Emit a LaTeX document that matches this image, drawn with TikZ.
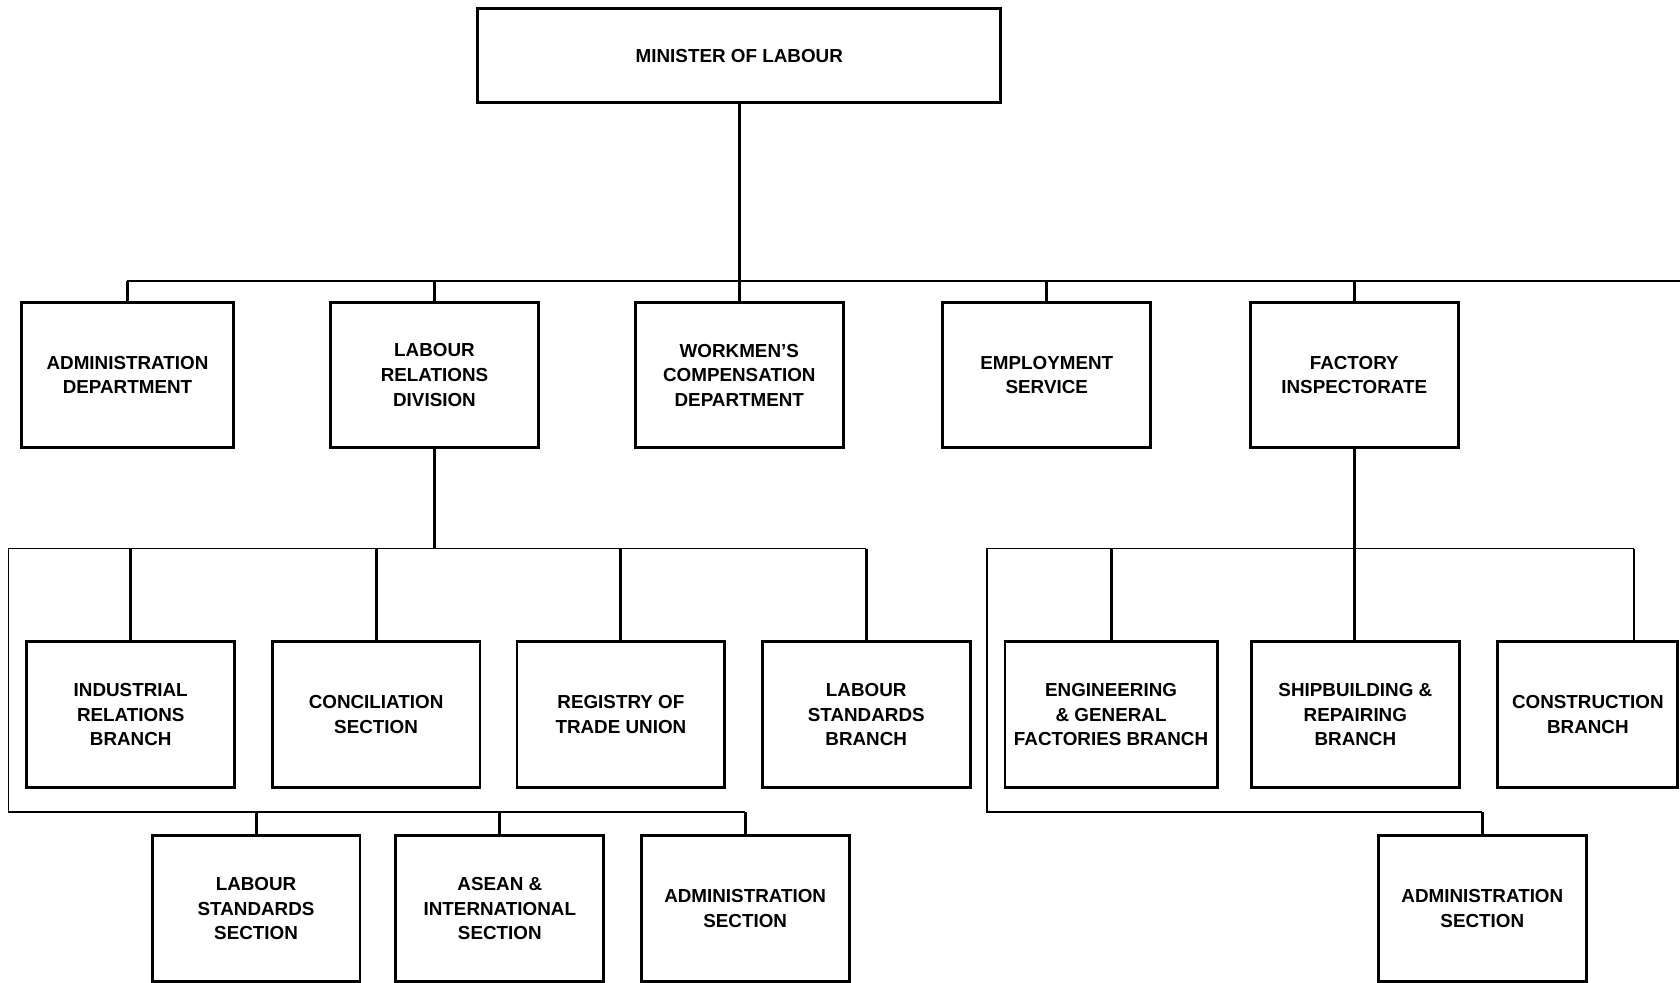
\documentclass[tikz,border=0pt]{standalone}
\usepackage{fontspec}
\setmainfont{Liberation Sans}
\usepackage{tikz}
\usetikzlibrary{positioning}

\begin{document}
\begin{tikzpicture}[
    x=0.025cm, y=-0.025cm,
    box/.style={rectangle, draw, line width=1.9pt, minimum width=4.85cm,
                minimum height=3.4cm, align=center, inner sep=1pt,
                font=\fontsize{12.5}{16.3}\selectfont\bfseries},
    link/.style={line width=1.9pt},
    bus/.style={line width=1.2pt}
]
\useasboundingbox (0,0) rectangle (1568,917);

% Nodes
\node[box, minimum width=12.2cm, minimum height=2.2cm] (minister) at (690,52) {MINISTER OF LABOUR};

\node[box, minimum width=4.95cm] (admin) at (119,350) {ADMINISTRATION\\DEPARTMENT};
\node[box] (lrd) at (405.5,350) {LABOUR\\RELATIONS\\DIVISION};
\node[box] (wcd) at (690,350) {WORKMEN'S\\COMPENSATION\\DEPARTMENT};
\node[box] (emp) at (977,350) {EMPLOYMENT\\SERVICE};
\node[box] (fi) at (1264,350) {FACTORY\\INSPECTORATE};

\node[box] (irb) at (122,667) {INDUSTRIAL\\RELATIONS\\BRANCH};
\node[box] (cs) at (351,667) {CONCILIATION\\SECTION};
\node[box] (rtu) at (579.5,667) {REGISTRY OF\\TRADE UNION};
\node[box] (lsb) at (808.5,667) {LABOUR\\STANDARDS\\BRANCH};

\node[box, minimum width=4.95cm] (egf) at (1037,667) {ENGINEERING\\\& GENERAL\\FACTORIES BRANCH};
\node[box] (srb) at (1265,667) {SHIPBUILDING \&\\REPAIRING\\BRANCH};
\node[box, minimum width=4.2cm] (cb) at (1482,667) {CONSTRUCTION\\BRANCH};

\node[box] (lss) at (239,848) {LABOUR\\STANDARDS\\SECTION};
\node[box] (ais) at (466.5,848) {ASEAN \&\\INTERNATIONAL\\SECTION};
\node[box] (las) at (695.5,848) {ADMINISTRATION\\SECTION};
\node[box] (fas) at (1383.5,848) {ADMINISTRATION\\SECTION};

% Bus corners
\coordinate (topend) at (1568,262);
\coordinate (lbus) at (8,512);
\coordinate (lbot) at (8,758);
\coordinate (rbus) at (921,512);
\coordinate (rbot) at (921,758);
\coordinate (cbtop) at (1525,599);

% Lines
\draw[link] (minister) -- (wcd);
\draw[bus] (admin.north) -- (admin.north |- topend) -- (topend);
\draw[link] (admin.north) -- (admin.north |- topend);
\draw[link] (lrd.north) -- (lrd.north |- topend);
\draw[link] (emp.north) -- (emp.north |- topend);
\draw[link] (fi.north) -- (fi.north |- topend);

\draw[link] (lrd.south) -- (lrd.south |- lbus);
\draw[bus] (lsb.north |- lbus) -- (lbus) -- (lbot) -- (lbot -| las.north);
\draw[link] (irb.north) -- (irb.north |- lbus);
\draw[link] (cs.north) -- (cs.north |- lbus);
\draw[link] (rtu.north) -- (rtu.north |- lbus);
\draw[link] (lsb.north) -- (lsb.north |- lbus);
\draw[link] (lss.north) -- (lss.north |- lbot);
\draw[link] (ais.north) -- (ais.north |- lbot);
\draw[link] (las.north) -- (las.north |- lbot);

\draw[link] (fi.south) -- (fi.south |- srb.north);
\draw[bus] (cbtop |- rbus) -- (rbus) -- (rbot) -- (rbot -| fas.north);
\draw[link] (egf.north) -- (egf.north |- rbus);
\draw[link] (cbtop) -- (cbtop |- rbus);
\draw[link] (fas.north) -- (fas.north |- rbot);
\end{tikzpicture}
\end{document}
